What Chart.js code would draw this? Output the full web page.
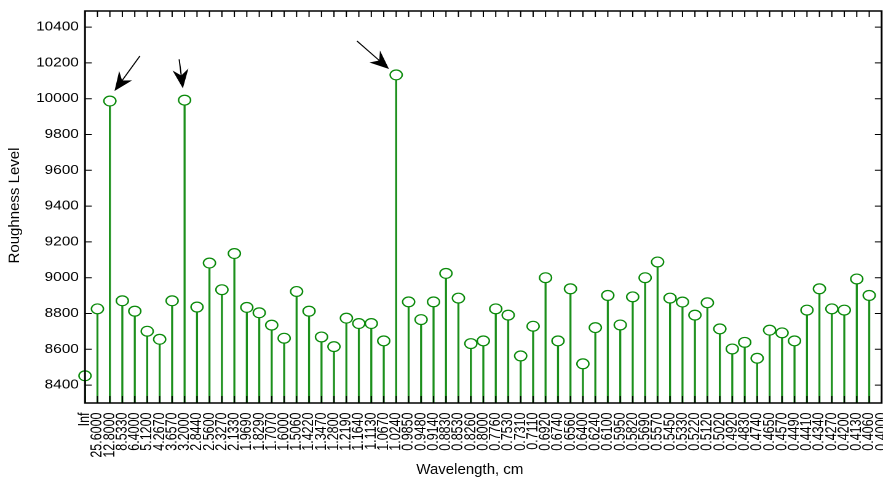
<!DOCTYPE html>
<html>
<head>
<meta charset="utf-8">
<script src="https://cdn.jsdelivr.net/npm/chart.js@4.4.1/dist/chart.umd.min.js"></script>
<style>
  html, body { margin: 0; padding: 0; background: #fff; overflow: hidden; width: 883px; height: 484px; }
  #wrap { width: 723px; height: 484px; transform: scaleX(1.2298); transform-origin: 0 0; }
  canvas { display: block; }
</style>
</head>
<body>
<div id="wrap"><canvas id="c" width="723" height="484"></canvas></div>
<script>
// ---- data ----
const wavelengths = ['Inf','25.6000','12.8000','8.5330','6.4000','5.1200','4.2670','3.6570','3.2000','2.8440',
  '2.5600','2.3270','2.1330','1.9690','1.8290','1.7070','1.6000','1.5060','1.4220','1.3470',
  '1.2800','1.2190','1.1640','1.1130','1.0670','1.0240','0.9850','0.9480','0.9140','0.8830',
  '0.8530','0.8260','0.8000','0.7760','0.7530','0.7310','0.7110','0.6920','0.6740','0.6560',
  '0.6400','0.6240','0.6100','0.5950','0.5820','0.5690','0.5570','0.5450','0.5330','0.5220',
  '0.5120','0.5020','0.4920','0.4830','0.4740','0.4650','0.4570','0.4490','0.4410','0.4340',
  '0.4270','0.4200','0.4130','0.4060','0.4000'];
const roughness = [8452, 8826, 9987, 8871, 8813, 8701, 8656, 8871, 9992, 8836,
  9082, 8933, 9135, 8834, 8804, 8735, 8662, 8923, 8813, 8669,
  8615, 8774, 8744, 8744, 8647, 10133, 8865, 8766, 8865, 9024,
  8886, 8632, 8647, 8826, 8791, 8563, 8729, 9000, 8647, 8938,
  8519, 8721, 8901, 8736, 8893, 9000, 9088, 8886, 8864, 8791,
  8860, 8714, 8602, 8639, 8550, 8707, 8692, 8647, 8819, 8938,
  8826, 8819, 8993, 8901, null];
const yTicks = [8400, 8600, 8800, 9000, 9200, 9400, 9600, 9800, 10000, 10200, 10400];
const Y_MIN = 8300, Y_MAX = 10490;
const xTitle = 'Wavelength, cm';
const yTitle = 'Roughness Level';
// arrows pointing at peaks: index of point, tail/tip offsets (screen px)
const arrowTargets = [2, 8, 25];
const arrowTail = [[30, -45], [-5.4, -40.8], [-39.2, -33.9]];
const arrowTip = [[4.6, -10], [-1.7, -11.8], [-7.2, -5.9]];

const SX = 1.2298; // horizontal stretch of the picture
const GREEN = '#0a8a0a';
const STEM = '#1c901c';
const FONT = "'Liberation Sans', Arial, Helvetica, sans-serif";

const framePlugin = {
  id: 'frame',
  afterDatasetsDraw(chart) {
    const {ctx, chartArea: a, scales: {x, y}} = chart;
    ctx.save();
    ctx.strokeStyle = '#000';
    ctx.lineWidth = 1;
    ctx.beginPath();
    x.ticks.forEach((t, i) => {
      const px = x.getPixelForTick(i);
      ctx.moveTo(px, a.bottom); ctx.lineTo(px, a.bottom - 7);
      ctx.moveTo(px, a.top); ctx.lineTo(px, a.top + 6);
    });
    y.ticks.forEach(t => {
      const py = y.getPixelForValue(t.value);
      ctx.moveTo(a.left, py); ctx.lineTo(a.left + 5.5, py);
      ctx.moveTo(a.right, py); ctx.lineTo(a.right - 5.5, py);
    });
    ctx.stroke();
    ctx.lineWidth = 1.5;
    ctx.strokeRect(a.left, a.top, a.right - a.left, a.bottom - a.top);

    // arrows (geometry computed in screen space, then mapped back)
    arrowTargets.forEach((idx, k) => {
      const px = x.getPixelForValue(idx) * SX, py = y.getPixelForValue(roughness[idx]);
      const S = [px + arrowTail[k][0], py + arrowTail[k][1]];
      const T = [px + arrowTip[k][0], py + arrowTip[k][1]];
      const dx = T[0] - S[0], dy = T[1] - S[1], len = Math.hypot(dx, dy);
      const u = [dx / len, dy / len], n = [-u[1], u[0]];
      const L = 19, W = 8, N = 6;
      const w1 = [T[0] - L * u[0] + W * n[0], T[1] - L * u[1] + W * n[1]];
      const w2 = [T[0] - L * u[0] - W * n[0], T[1] - L * u[1] - W * n[1]];
      const nb = [T[0] - (L - N) * u[0], T[1] - (L - N) * u[1]];
      ctx.lineWidth = 1;
      ctx.beginPath();
      ctx.moveTo(S[0] / SX, S[1]); ctx.lineTo(nb[0] / SX, nb[1]);
      ctx.stroke();
      ctx.fillStyle = '#000';
      ctx.beginPath();
      ctx.moveTo(T[0] / SX, T[1]);
      ctx.lineTo(w1[0] / SX, w1[1]);
      ctx.lineTo(nb[0] / SX, nb[1]);
      ctx.lineTo(w2[0] / SX, w2[1]);
      ctx.closePath();
      ctx.fill();
    });

    // axis titles, drawn without the horizontal stretch
    ctx.scale(1 / SX, 1);
    ctx.fillStyle = '#000';
    ctx.font = '15px ' + FONT;
    ctx.textAlign = 'center';
    ctx.textBaseline = 'middle';
    ctx.fillText(xTitle, (a.left + a.right) / 2 * SX - 13.5, 470);
    ctx.translate(15, (a.top + a.bottom) / 2 - 1.5);
    ctx.rotate(-Math.PI / 2);
    ctx.fillText(yTitle, 0, 0);
    ctx.restore();
  }
};

new Chart(document.getElementById('c'), {
  type: 'bar',
  data: {
    labels: wavelengths,
    datasets: [
      {
        type: 'line',
        data: roughness,
        showLine: false,
        pointRadius: 4.9,
        pointHoverRadius: 4.9,
        pointBorderWidth: 1.2,
        pointBorderColor: GREEN,
        pointBackgroundColor: '#ffffff',
        clip: false,
        order: 0
      },
      {
        type: 'bar',
        data: roughness,
        base: Y_MIN,
        backgroundColor: STEM,
        barThickness: 1,
        order: 1
      }
    ]
  },
  options: {
    responsive: false,
    animation: false,
    devicePixelRatio: 2,
    layout: { padding: { top: 11, right: 0, bottom: 0, left: 0 } },
    plugins: { legend: { display: false }, tooltip: { enabled: false } },
    events: [],
    scales: {
      x: {
        type: 'category',
        offset: false,
        grid: { display: false, drawTicks: false },
        border: { display: false },
        ticks: {
          autoSkip: false, minRotation: 90, maxRotation: 90, padding: 9.5,
          color: '#000', font: { family: FONT, size: 12.5 }
        },
        title: { display: false, text: xTitle },
        afterFit(s) { s.height = 81; s.paddingRight = 0; s.paddingLeft = 0; }
      },
      y: {
        type: 'linear',
        min: Y_MIN, max: Y_MAX,
        grid: { display: false, drawTicks: false },
        border: { display: false },
        afterBuildTicks(s) { s.ticks = yTicks.map(v => ({ value: v })); },
        ticks: {
          padding: 5, color: '#000', font: { family: FONT, size: 12.5 },
          callback: v => String(v)
        },
        title: { display: false, text: yTitle },
        afterFit(s) { s.width = 69.1; s.paddingTop = 0; s.paddingBottom = 0; }
      }
    }
  },
  plugins: [framePlugin]
});
</script>
</body>
</html>
